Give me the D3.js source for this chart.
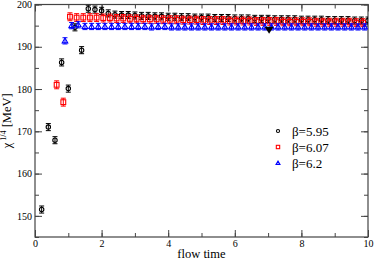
<!DOCTYPE html>
<html lang="en">
  <head>
    <meta charset="utf-8" />
    <title>chi^1/4 vs flow time</title>
    <style>
      body {
        margin: 0;
        background: #fff;
      }
      svg text {
        font-family: 'Liberation Serif', 'Times New Roman', serif;
        fill: #000;
      }
    </style>
  </head>

  <body>
    <div id="chart"></div>

    <script src="https://cdnjs.cloudflare.com/ajax/libs/d3/7.4.4/d3.min.js"></script>
    <script type="text/javascript">
      // beta = 5.95 (flow time 0.2 .. 10.0)
      var tBlack = [
        0.2, 0.4, 0.6, 0.8, 1.0, 1.2, 1.4, 1.6, 1.8, 2.0, 2.2, 2.4, 2.6, 2.8, 3.0, 3.2, 3.4, 3.6, 3.8, 4.0, 4.2, 4.4,
        4.6, 4.8, 5.0, 5.2, 5.4, 5.6, 5.8, 6.0, 6.2, 6.4, 6.6, 6.8, 7.0, 7.2, 7.4, 7.6, 7.8, 8.0, 8.2, 8.4, 8.6, 8.8,
        9.0, 9.2, 9.4, 9.6, 9.8, 10.0
      ]
      var vBlack = [
        151.5, 171.0, 167.9, 186.3, 180.1, 194.6, 189.2, 199.0, 198.8, 198.5, 197.9, 197.6, 197.5, 197.5, 197.4,
        197.3, 197.3, 197.2, 197.2, 197.1, 197.1, 197.0, 197.0, 196.9, 196.9, 196.9, 196.8, 196.8, 196.8, 196.7,
        196.7, 196.7, 196.6, 196.6, 196.6, 196.5, 196.5, 196.5, 196.5, 196.4, 196.4, 196.4, 196.4, 196.3, 196.3,
        196.3, 196.3, 196.2, 196.2, 196.2
      ]
      var eBlack = 0.6

      // beta = 6.07 (flow time 0.65 .. 9.85)
      var tRed = [
        0.65, 0.85, 1.05, 1.25, 1.45, 1.65, 1.85, 2.05, 2.25, 2.45, 2.65, 2.85, 3.05, 3.25, 3.45, 3.65, 3.85, 4.05,
        4.25, 4.45, 4.65, 4.85, 5.05, 5.25, 5.45, 5.65, 5.85, 6.05, 6.25, 6.45, 6.65, 6.85, 7.05, 7.25, 7.45, 7.65,
        7.85, 8.05, 8.25, 8.45, 8.65, 8.85, 9.05, 9.25, 9.45, 9.65, 9.85
      ]
      var vRed = [
        181.0, 176.9, 197.1, 196.9, 196.9, 196.9, 196.9, 196.8, 196.8, 196.7, 196.7, 196.6, 196.6, 196.5, 196.5,
        196.5, 196.4, 196.4, 196.4, 196.3, 196.3, 196.3, 196.2, 196.2, 196.2, 196.2, 196.1, 196.1, 196.1, 196.1,
        196.0, 196.0, 196.0, 196.0, 195.9, 195.9, 195.9, 195.9, 195.9, 195.8, 195.8, 195.8, 195.8, 195.8, 195.8,
        195.7, 195.7
      ]
      var eRed = 0.7

      // beta = 6.2 (flow time 0.9 .. 9.9)
      var tBlue = [
        0.9, 1.1, 1.3, 1.5, 1.7, 1.9, 2.1, 2.3, 2.5, 2.7, 2.9, 3.1, 3.3, 3.5, 3.7, 3.9, 4.1, 4.3, 4.5, 4.7, 4.9, 5.1,
        5.3, 5.5, 5.7, 5.9, 6.1, 6.3, 6.5, 6.7, 6.9, 7.1, 7.3, 7.5, 7.7, 7.9, 8.1, 8.3, 8.5, 8.7, 8.9, 9.1, 9.3, 9.5,
        9.7, 9.9
      ]
      var vBlue = [
        191.4, 195.0, 195.2, 194.8, 194.8, 194.8, 194.8, 194.8, 194.8, 194.8, 194.8, 194.8, 194.8, 194.7, 194.8,
        194.8, 194.7, 194.7, 194.7, 194.7, 194.7, 194.7, 194.7, 194.7, 194.7, 194.7, 194.7, 194.7, 194.7, 194.7,
        194.7, 194.7, 194.7, 194.7, 194.7, 194.7, 194.7, 194.7, 194.7, 194.7, 194.7, 194.7, 194.7, 194.7, 194.7,
        194.7
      ]
      var eBlue = 0.5

      // single filled down-triangle near t = 7
      var tMark = [7.03]
      var vMark = [194.0]

      var legendLabels = ['\u03b2=5.95', '\u03b2=6.07', '\u03b2=6.2']
      var xTicks = [0, 2, 4, 6, 8, 10]
      var yTicks = [150, 160, 170, 180, 190, 200]

      // Set the dimensions and margins of the graph
      var W = 374,
        H = 261
      var margin = { top: 4.5, right: 6, bottom: 24, left: 35 },
        width = W - margin.left - margin.right,
        height = H - margin.top - margin.bottom

      var svg = d3
        .select('#chart')
        .append('svg')
        .attr('width', W)
        .attr('height', H)
        .append('g')
        .attr('transform', 'translate(' + margin.left + ',' + margin.top + ')')

      var x = d3.scaleLinear().domain([0, 10]).range([0, width])
      var y = d3.scaleLinear().domain([145, 200]).range([height, 0])

      svg
        .append('clipPath')
        .attr('id', 'clip')
        .append('rect')
        .attr('x', 0)
        .attr('y', 0)
        .attr('width', width)
        .attr('height', height)

      // Axes: ticks inside, on all four sides
      var axisColor = '#444'
      function styleAxis(g) {
        g.attr('font-family', null).attr('font-size', null)
        g.select('.domain').remove()
        g.selectAll('line').attr('stroke', axisColor)
        g.selectAll('text').style('font-size', '10px').style('font-family', "'Liberation Serif', serif")
      }
      var xMinor = d3.range(0, 10.01, 1)
      var yMinor = d3.range(145, 200.01, 5)

      svg
        .append('g')
        .attr('transform', 'translate(0,' + height + ')')
        .call(d3.axisBottom(x).tickValues(xMinor).tickSize(-4).tickFormat(''))
        .call(styleAxis)
      svg
        .append('g')
        .attr('transform', 'translate(0,' + height + ')')
        .call(d3.axisBottom(x).tickValues(xTicks).tickSize(-7).tickPadding(3).tickFormat(d3.format('d')))
        .call(styleAxis)
      svg
        .append('g')
        .call(d3.axisTop(x).tickValues(xMinor).tickSize(-4).tickFormat(''))
        .call(styleAxis)
      svg
        .append('g')
        .call(d3.axisTop(x).tickValues(xTicks).tickSize(-7).tickFormat(''))
        .call(styleAxis)

      svg
        .append('g')
        .call(d3.axisLeft(y).tickValues(yMinor).tickSize(-4).tickFormat(''))
        .call(styleAxis)
      svg
        .append('g')
        .call(d3.axisLeft(y).tickValues(yTicks).tickSize(-7).tickPadding(3).tickFormat(d3.format('d')))
        .call(styleAxis)
      svg
        .append('g')
        .attr('transform', 'translate(' + width + ',0)')
        .call(d3.axisRight(y).tickValues(yMinor).tickSize(-4).tickFormat(''))
        .call(styleAxis)
      svg
        .append('g')
        .attr('transform', 'translate(' + width + ',0)')
        .call(d3.axisRight(y).tickValues(yTicks).tickSize(-7).tickFormat(''))
        .call(styleAxis)

      // Frame
      svg
        .append('rect')
        .attr('width', width)
        .attr('height', height)
        .attr('fill', 'none')
        .attr('stroke', axisColor)
        .attr('stroke-width', 1.2)

      // Axis titles
      svg
        .append('text')
        .attr('x', width / 2)
        .attr('y', height + 21)
        .attr('text-anchor', 'middle')
        .attr('font-size', '12.5px')
        .text('flow time')

      var yt = svg
        .append('text')
        .attr('transform', 'translate(' + -24 + ',' + height / 2 + ') rotate(-90)')
        .attr('text-anchor', 'middle')
        .attr('font-size', '12.5px')
      yt.append('tspan').text('\u03c7')
      yt.append('tspan').attr('font-size', '8px').attr('dy', -5).text(' 1/4')
      yt.append('tspan').attr('dy', 5).text(' [MeV]')

      // Data series
      var series = [
        { t: tBlack, v: vBlack, e: eBlack, color: '#000', shape: 'circle' },
        { t: tRed, v: vRed, e: eRed, color: '#ff0000', shape: 'square' },
        { t: tBlue, v: vBlue, e: eBlue, color: '#0000ff', shape: 'triangle' }
      ]

      function marker(g, shape, color, cx, cy, s) {
        if (shape === 'circle') {
          g.append('circle').attr('cx', cx).attr('cy', cy).attr('r', 2.2 * s)
        } else if (shape === 'square') {
          g.append('rect')
            .attr('x', cx - 2.4 * s)
            .attr('y', cy - 2.4 * s)
            .attr('width', 4.8 * s)
            .attr('height', 4.8 * s)
        } else {
          g.append('path').attr(
            'd',
            'M' + cx + ',' + (cy - 2.8 * s) + 'L' + (cx + 2.8 * s) + ',' + (cy + 2 * s) + 'L' + (cx - 2.8 * s) + ',' + (cy + 2 * s) + 'Z'
          )
        }
        g.selectAll('*').attr('fill', 'none').attr('stroke', color).attr('stroke-width', 1.1)
      }

      var plot = svg.append('g').attr('clip-path', 'url(#clip)')

      series.forEach(function (s) {
        var g = plot.append('g')
        s.t.forEach(function (t, i) {
          var cx = x(t),
            cy = y(s.v[i]),
            top = y(s.v[i] + s.e),
            bot = y(s.v[i] - s.e)
          var p = g.append('g')
          p.append('line').attr('x1', cx).attr('x2', cx).attr('y1', top - 1).attr('y2', bot + 1)
          p.append('line').attr('x1', cx - 2.5).attr('x2', cx + 2.5).attr('y1', top - 1).attr('y2', top - 1)
          p.append('line').attr('x1', cx - 2.5).attr('x2', cx + 2.5).attr('y1', bot + 1).attr('y2', bot + 1)
          p.selectAll('line').attr('stroke', s.color).attr('stroke-width', 1)
          var m = p.append('g')
          marker(m, s.shape, s.color, cx, cy, 1)
        })
      })

      // the odd filled triangle
      plot
        .selectAll('path.mark')
        .data(tMark)
        .enter()
        .append('path')
        .attr('class', 'mark')
        .attr('d', function (d, i) {
          var cx = x(d),
            cy = y(vMark[i])
          return 'M' + (cx - 4.5) + ',' + (cy - 3) + 'L' + (cx + 4.5) + ',' + (cy - 3) + 'L' + cx + ',' + (cy + 4) + 'Z'
        })
        .attr('fill', '#000')

      // Legend
      var legend = svg.append('g').attr('transform', 'translate(' + (278 - margin.left) + ',' + (131 - margin.top) + ')')
      legendLabels.forEach(function (lab, i) {
        var row = legend.append('g').attr('transform', 'translate(0,' + i * 16 + ')')
        var m = row.append('g')
        marker(m, series[i].shape, series[i].color, 0, 0, 0.7)
        row.append('text').attr('x', 14).attr('y', 4.5).attr('font-size', '13px').text(lab)
      })
    </script>
  </body>
</html>
